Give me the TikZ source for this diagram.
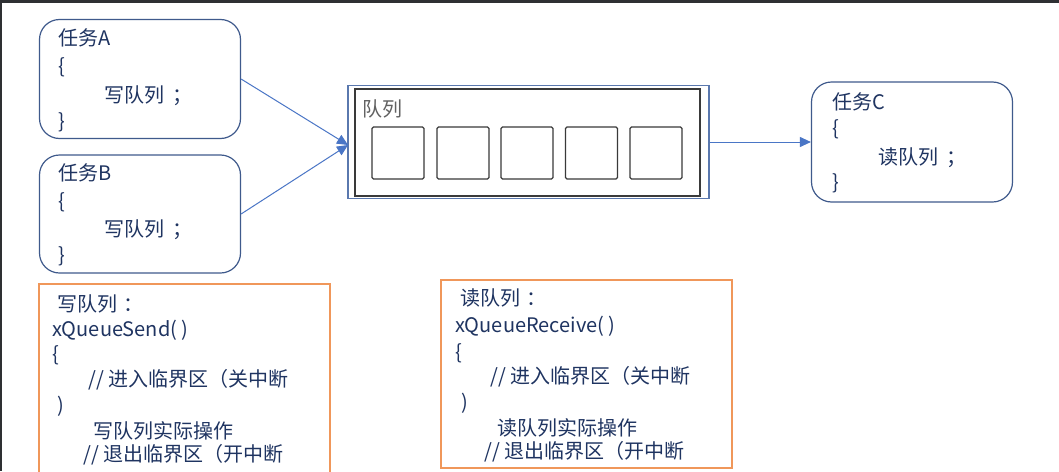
\documentclass[tikz,border=0pt]{standalone}
\usepackage{fontspec}
\setmainfont{Noto Sans CJK SC}
\usetikzlibrary{arrows.meta}
\definecolor{navy}{HTML}{1F3461}
\definecolor{boxline}{HTML}{3F5A8C}
\definecolor{arrowblue}{HTML}{4A76C6}
\definecolor{qouter}{HTML}{5A78AE}
\definecolor{qinner}{HTML}{3A3A3A}
\definecolor{orangeline}{HTML}{F0975A}
\definecolor{frame}{HTML}{2E3033}
\tikzset{
  task/.style={draw=boxline, line width=1.2pt, rounded corners=20pt, inner sep=0pt},
  txt/.style={anchor=west, inner sep=0pt, text=navy, font=\fontsize{20}{24}\selectfont},
  slot/.style={draw=qinner, line width=1.3pt, rounded corners=1.5pt, inner sep=0pt, minimum width=52pt, minimum height=52pt},
  conn/.style={draw=arrowblue, line width=1pt, -{Triangle[length=11pt,width=10pt]}},
  obox/.style={draw=orangeline, line width=1.2pt, inner sep=0pt}
}
\begin{document}
\begin{tikzpicture}[x=1pt,y=-1pt]
\useasboundingbox (0,0) rectangle (1059,471);
\clip (0,0) rectangle (1059,471);
\fill[white] (0,0) rectangle (1059,471);
\fill[frame] (0,0) rectangle (1059,3);
\fill[frame] (0,0) rectangle (1.5,471);
% task boxes
\node[task, minimum width=201pt, minimum height=119pt] (A) at (140,79) {};
\node[task, minimum width=201pt, minimum height=118pt] (B) at (140,214) {};
\node[task, minimum width=201pt, minimum height=120pt] (C) at (912,142) {};
\node[txt] (ta1) at (58,38) {任务A};
\node[txt] (ta2) at (58,67) {\{};
\node[txt] (ta3) at (104,96) {写队列\hspace{8pt}；};
\node[txt] (ta4) at (58,122) {\}};
\node[txt] (tb1) at (58,173) {任务B};
\node[txt] (tb2) at (58,202) {\{};
\node[txt] (tb3) at (104,230) {写队列\hspace{8pt}；};
\node[txt] (tb4) at (58,256) {\}};
\node[txt] (tc1) at (832,102) {任务C};
\node[txt] (tc2) at (832,129) {\{};
\node[txt] (tc3) at (878,158) {读队列\hspace{8pt}；};
\node[txt] (tc4) at (832,183) {\}};
% queue
\node[draw=qouter, line width=1.5pt, minimum width=361pt, minimum height=113pt, inner sep=0pt] (Q) at (528.5,142) {};
\node[draw=qinner, line width=1.3pt, minimum width=345pt, minimum height=107pt, inner sep=0pt] (QI) at (527.5,142.5) {};
\node[txt, text=qinner!80] (ql) at (362,109) {队列};
\node[slot] (s1) at (398,153) {};
\node[slot] (s2) at (463,153) {};
\node[slot] (s3) at (527,153) {};
\node[slot] (s4) at (591.5,153) {};
\node[slot] (s5) at (656,153) {};
% connectors
\coordinate (qin) at (348,145);
\draw[conn] (A.east) -- (qin);
\draw[conn] (B.east) -- (qin);
\draw[conn] (Q.east) -- (C.west);
% orange boxes
\node[obox, minimum width=291pt, minimum height=196pt] (O1) at (184.5,382) {};
\node[obox, minimum width=291pt, minimum height=188pt] (O2) at (586.5,374) {};
\node[txt] (o11) at (57,304) {写队列\hspace{6pt}：};
\node[txt] (o12) at (52,330) {xQueueSend(\hspace{4pt})};
\node[txt] (o13) at (52,355) {\{};
\node[txt] (o14) at (88,380) {// 进入临界区（关中断};
\node[txt] (o15) at (57,406) {)};
\node[txt] (o16) at (93,431) {写队列实际操作};
\node[txt] (o17) at (83,455) {// 退出临界区（开中断};
\node[txt] (o21) at (460,298) {读队列\hspace{6pt}：};
\node[txt] (o22) at (455,326) {xQueueReceive(\hspace{4pt})};
\node[txt] (o23) at (455,353) {\{};
\node[txt] (o24) at (490,377) {// 进入临界区（关中断};
\node[txt] (o25) at (461,403) {)};
\node[txt] (o26) at (497,428) {读队列实际操作};
\node[txt] (o27) at (484,452) {// 退出临界区（开中断};
\end{tikzpicture}
\end{document}
